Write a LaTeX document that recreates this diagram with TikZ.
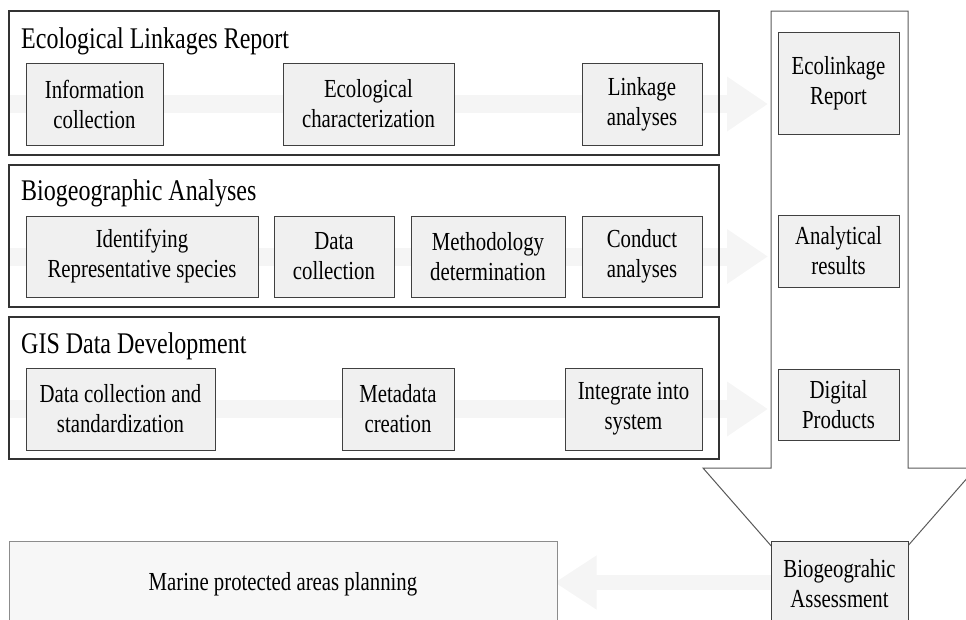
\documentclass[tikz,border=0pt]{standalone}
\usepackage{fontspec}
\setmainfont{Liberation Serif}[FakeStretch=0.8]
\usetikzlibrary{arrows.meta,backgrounds}
\definecolor{boxfill}{gray}{0.94}
\definecolor{flowgray}{gray}{0.96}
\definecolor{planfill}{gray}{0.97}
\begin{document}
\begin{tikzpicture}[x=1pt, y=-1pt, line join=miter,
  group/.style={draw=black!80, line width=1.3pt, inner sep=0pt, minimum width=710pt},
  grouptitle/.style={anchor=base west, inner sep=0pt, font=\fontsize{30}{36}\selectfont},
  task/.style={draw=black!75, line width=1pt, fill=boxfill, align=center, inner sep=0pt,
    font=\fontsize{26}{30}\selectfont},
  flow/.style={draw=flowgray, line width=18pt, -{Triangle[length=41pt,width=52pt]}}]
  \useasboundingbox (0,0) rectangle (966,619);
  \clip (0,0) rectangle (966,619);

  % --- big down arrow (right column) ---
  \coordinate (shaft-tl) at (771,11);
  \coordinate (shaft-tr) at (908,11);
  \coordinate (shaft-br) at (908,468);
  \coordinate (head-r) at (976,468);
  \coordinate (head-tip) at (839.5,624);
  \coordinate (head-l) at (703,468);
  \coordinate (shaft-bl) at (771,468);
  \draw[draw=black!65, line width=1pt] (shaft-tl) -- (shaft-tr) -- (shaft-br) -- (head-r)
    -- (head-tip) -- (head-l) -- (shaft-bl) -- cycle;

  % --- ecological linkages report ---
  \node[group, minimum height=144pt] (eco) at (364,83) {};
  \node[grouptitle] (eco-title) at (21,48) {Ecological Linkages Report};
  \node[task, minimum width=137pt, minimum height=82pt] (eco-info) at (94.5,104) {Information\\collection};
  \node[task, minimum width=171pt, minimum height=82pt] (eco-char) at (368.5,104) {Ecological\\characterization};
  \node[task, minimum width=120pt, minimum height=82pt] (eco-link) at (642,104) {Linkage\\analyses};

  % --- biogeographic analyses ---
  \node[group, minimum height=142pt] (bio) at (364,236) {};
  \node[grouptitle] (bio-title) at (21,200.5) {Biogeographic Analyses};
  \node[task, minimum width=232pt, minimum height=81pt] (bio-ident) at (142,256.5) {Identifying\\Representative species};
  \node[task, minimum width=120pt, minimum height=81pt] (bio-data) at (334,256.5) {Data\\collection};
  \node[task, minimum width=154pt, minimum height=81pt] (bio-meth) at (488,256.5) {Methodology\\determination};
  \node[task, minimum width=120pt, minimum height=81pt] (bio-cond) at (642,256.5) {Conduct\\analyses};

  % --- GIS data development ---
  \node[group, minimum height=142pt] (gis) at (364,388) {};
  \node[grouptitle] (gis-title) at (21,353) {GIS Data Development};
  \node[task, minimum width=189pt, minimum height=82pt] (gis-std) at (120.5,409) {Data collection and\\standardization};
  \node[task, minimum width=112pt, minimum height=82pt] (gis-meta) at (398,409) {Metadata\\creation};
  \node[task, minimum width=137pt, minimum height=82pt] (gis-int) at (633.5,409) {Integrate into\\system};

  % --- products inside the shaft ---
  \node[task, minimum width=121pt, minimum height=102pt] (out-eco) at (838.5,83) {Ecolinkage\\Report};
  \node[task, minimum width=121pt, minimum height=72pt] (out-ana) at (838.5,251) {Analytical\\results};
  \node[task, minimum width=121pt, minimum height=71pt] (out-dig) at (838.5,404.5) {Digital\\Products};

  % --- assessment and planning ---
  \node[task, minimum width=137pt, minimum height=86pt] (assess) at (839.5,584) {Biogeograhic\\Assessment};
  \node[task, draw=black!45, fill=planfill, minimum width=548pt, minimum height=86pt] (marine) at (283,584) {Marine protected areas planning};

  % === faint flow arrows behind the boxes ===
  \begin{scope}[on background layer]
    \draw[flow, shorten >=3pt] (eco.west |- eco-info) -- (shaft-tl |- eco-info);
    \draw[flow, shorten >=3pt] (bio.west |- bio-ident) -- (shaft-tl |- bio-ident);
    \draw[flow, shorten >=3pt] (gis.west |- gis-std) -- (shaft-tl |- gis-std);
    \draw[flow, line width=15pt, -{Triangle[length=42pt,width=51pt]}, shorten >=-3pt]
      ([yshift=1.5pt]assess.west) -- ([yshift=1.5pt]marine.east);
  \end{scope}
\end{tikzpicture}
\end{document}
